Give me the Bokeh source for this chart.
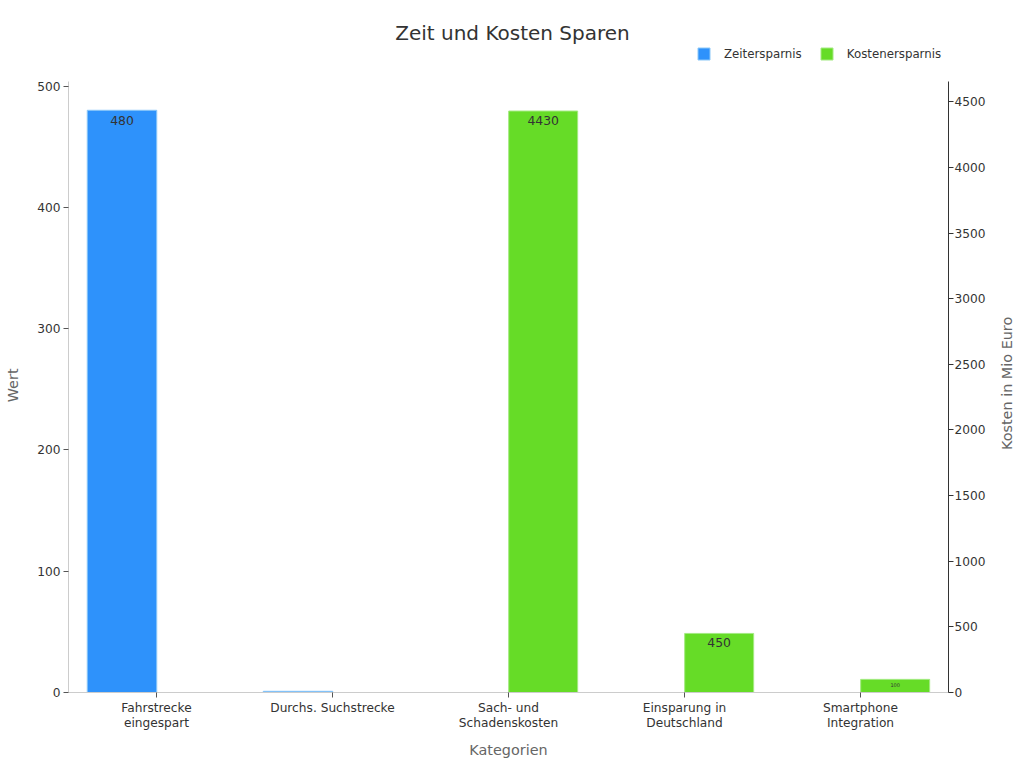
from math import pi
from bokeh.core.properties import value
from bokeh.embed import file_html
from bokeh.resources import INLINE
from bokeh.models import (ColumnDataSource, FactorRange, Range1d, LinearAxis, Legend, LegendItem,
                          FixedTicker, Label)
from bokeh.plotting import figure
from bokeh.transform import dodge

categories = ["Fahrstrecke\neingespart", "Durchs. Suchstrecke", "Sach- und\nSchadenskosten",
              "Einsparung in\nDeutschland", "Smartphone\nIntegration"]
zeit_cats = ["Fahrstrecke\neingespart", "Durchs. Suchstrecke"]
zeit_values = [480, 1]
zeit_labels = ["480", "1"]
kosten_cats = ["Sach- und\nSchadenskosten", "Einsparung in\nDeutschland", "Smartphone\nIntegration"]
kosten_values = [4430, 450, 100]
kosten_labels = ["4430", "450", "100"]
left_ticks = [0, 100, 200, 300, 400, 500]
right_ticks = [0, 500, 1000, 1500, 2000, 2500, 3000, 3500, 4000, 4500]
NBSP = "\u00a0"

p = figure(width=1016, height=760, frame_width=880, frame_height=692,
           x_range=FactorRange(factors=categories, range_padding=0, factor_padding=0),
           y_range=Range1d(0, 570.5), output_backend="svg", toolbar_location=None,
           min_border_left=68, min_border_right=68, min_border_top=0, min_border_bottom=68)
p.extra_y_ranges = {"kosten": Range1d(0, 5272)}
p.add_layout(LinearAxis(y_range_name="kosten"), "right")


def label_source(cats, vals, labs, keep):
    idx = [i for i in range(len(cats)) if keep(labs[i])]
    return ColumnDataSource(dict(cat=[cats[i] for i in idx], val=[vals[i] for i in idx], lab=[labs[i] for i in idx]))


zeit = ColumnDataSource(dict(cat=zeit_cats, val=zeit_values))
kosten = ColumnDataSource(dict(cat=kosten_cats, val=kosten_values))
zeit_x = dodge("cat", -0.196, range=p.x_range)
kosten_x = dodge("cat", 0.197, range=p.x_range)

r1 = p.vbar(x=zeit_x, top="val", width=0.395, source=zeit,
            fill_color="#2e92fb", line_color="#8cc8f8", line_width=1)
r2 = p.vbar(x=kosten_x, top="val", width=0.392, source=kosten, y_range_name="kosten",
            fill_color="#66dc27", line_color="#a4ea82", line_width=1)

common = dict(y="val", text="lab", text_font=value("DejaVu Sans"), text_color="#333333", text_align="center",
              text_baseline="top", y_offset=5)
p.text(x=zeit_x, source=label_source(zeit_cats, zeit_values, zeit_labels, lambda s: s == "480"),
       text_font_size="12.4px", **{**common, "y_offset": 6})
p.text(x=zeit_x, source=label_source(zeit_cats, zeit_values, zeit_labels, lambda s: s == "1"),
       text_font_size="1.5px", **{**common, "y_offset": 0})
p.text(x=kosten_x, source=label_source(kosten_cats, kosten_values, kosten_labels, lambda s: s != "100"),
       y_range_name="kosten", text_font_size="12.4px", **common)
p.text(x=kosten_x, source=label_source(kosten_cats, kosten_values, kosten_labels, lambda s: s == "100"),
       y_range_name="kosten", text_font_size="5px", **{**common, "y_offset": 4})

legend = Legend(items=[LegendItem(label="Zeitersparnis", renderers=[r1]),
                       LegendItem(label="Kostenersparnis", renderers=[r2])],
                orientation="horizontal", location=(628, 631), border_line_color=None,
                background_fill_alpha=0, padding=0, margin=0, spacing=17,
                glyph_width=15, glyph_height=15, label_standoff=13, label_height=15,
                label_text_font="DejaVu Sans", label_text_font_size="11.8px", label_text_color="#333333",
                label_text_baseline="middle")
p.add_layout(legend, "center")
p.add_layout(Label(x=444, y=660, x_units="screen", y_units="screen", text="Zeit und Kosten Sparen",
                   text_align="center", text_baseline="middle", text_font="DejaVu Sans",
                   text_font_size="20px", text_font_style="normal", text_color="#333333"))

p.grid.visible = False
p.outline_line_color = None

for ax in p.axis:
    ax.major_label_text_font = "DejaVu Sans"
    ax.major_label_text_font_size = "12.2px"
    ax.major_label_text_color = "#333333"
    ax.axis_label_text_font = "DejaVu Sans"
    ax.axis_label_text_font_size = "14.4px"
    ax.axis_label_text_font_style = "normal"
    ax.axis_label_text_color = "#666666"
    ax.minor_tick_line_color = None
    ax.major_tick_in = 0
    ax.major_tick_out = 5

xax = p.below[0]
xax.axis_label = "Kategorien"
xax.axis_line_color = "#cccccc"
xax.major_tick_line_color = "#555555"
xax.major_label_standoff = 3
xax.major_label_text_line_height = 1.14
xax.axis_label_standoff = 9

yl = p.left[0]
yl.axis_label = "Wert" + NBSP * 17
yl.ticker = FixedTicker(ticks=left_ticks)
yl.bounds = (0, 504)
yl.axis_line_color = "#cccccc"
yl.major_tick_line_color = "#555555"
yl.major_label_standoff = 3
yl.axis_label_standoff = 13

yr = p.right[0]
yr.axis_label = NBSP * 53 + "Kosten in Mio Euro"
yr.axis_label_orientation = pi / 2
yr.axis_label_align = "start"
yr.ticker = FixedTicker(ticks=right_ticks)
yr.bounds = (0, 4656)
yr.axis_line_color = "#333333"
yr.major_tick_line_color = "#333333"
yr.major_label_standoff = 1
yr.axis_label_standoff = 18

open("out.html", "w").write(file_html(p, INLINE))
